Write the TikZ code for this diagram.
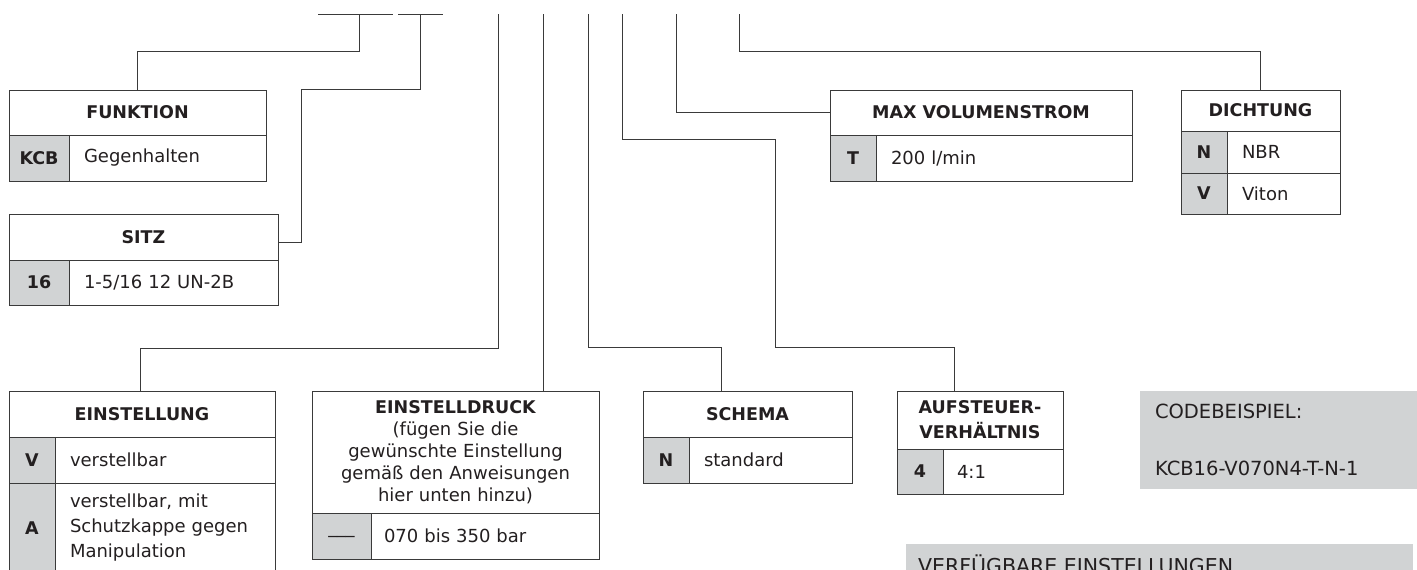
\documentclass[tikz,border=0pt]{standalone}
\usepackage{fontspec}
\setmainfont{DejaVu Sans}
\usetikzlibrary{positioning}
\definecolor{rulegray}{HTML}{3A3A3A}
\definecolor{cellgray}{HTML}{D1D3D4}
\definecolor{ink}{HTML}{231F20}

\begin{document}
\begin{tikzpicture}[x=1pt,y=-1pt,text=ink,
   font=\fontsize{18}{25}\selectfont,
   lnk/.style={draw=rulegray,line width=1pt},
   hd/.style={draw=rulegray,line width=1pt,font=\fontsize{17.5}{25}\selectfont\bfseries,
     inner sep=0pt,outer sep=0pt,align=center},
   cd/.style={draw=rulegray,line width=1pt,fill=cellgray,font=\fontsize{17.5}{25}\selectfont\bfseries,
     inner sep=0pt,outer sep=0pt},
   vl/.style={draw=rulegray,line width=1pt,inner xsep=15pt,inner ysep=0pt,
     outer sep=0pt,align=left},
   note/.style={fill=cellgray,inner sep=0pt,outer sep=0pt}]
  \useasboundingbox (0,0) rectangle (1417,570);
  \clip (0,0) rectangle (1417,570);
  % code positions
  \coordinate (segA1) at (318,14); \coordinate (segA2) at (393,14);
  \coordinate (segB1) at (398,14); \coordinate (segB2) at (443,14);
  \coordinate (s1) at (359,14); \coordinate (s2) at (420,14);
  \coordinate (s3) at (498,14); \coordinate (s4) at (543,14);
  \coordinate (s5) at (588,14); \coordinate (s6) at (622,14);
  \coordinate (s7) at (676,14); \coordinate (s8) at (739,14);
  % FUNKTION
  \node[hd,anchor=north west,minimum width=257pt,minimum height=45pt] (funkH) at (9,90) {FUNKTION};
  \node[cd,below right=0pt of funkH.south west,minimum width=60pt,minimum height=46pt] (funkC) {KCB};
  \node[vl,right=0pt of funkC,text width=167pt,minimum height=46pt] (funkV) {Gegenhalten};
  % SITZ
  \node[hd,anchor=north west,minimum width=269pt,minimum height=46pt] (sitzH) at (9,214) {SITZ};
  \node[cd,below right=0pt of sitzH.south west,minimum width=60pt,minimum height=45pt] (sitzC) {16};
  \node[vl,right=0pt of sitzC,text width=179pt,minimum height=45pt] (sitzV) {1-5/16 12 UN-2B};
  % MAX VOLUMENSTROM
  \node[hd,anchor=north west,minimum width=302pt,minimum height=45pt] (maxH) at (830,90) {MAX VOLUMENSTROM};
  \node[cd,below right=0pt of maxH.south west,minimum width=46pt,minimum height=46pt] (maxC) {T};
  \node[vl,right=0pt of maxC,text width=226pt,minimum height=46pt] (maxV) {200 l/min};
  % DICHTUNG
  \node[hd,anchor=north west,minimum width=159pt,minimum height=41pt] (dichH) at (1181,90) {DICHTUNG};
  \node[cd,below right=0pt of dichH.south west,minimum width=46pt,minimum height=42pt] (dichC1) {N};
  \node[vl,right=0pt of dichC1,text width=83pt,minimum height=42pt] (dichV1) {NBR};
  \node[cd,below right=0pt of dichC1.south west,minimum width=46pt,minimum height=41pt] (dichC2) {V};
  \node[vl,right=0pt of dichC2,text width=83pt,minimum height=41pt] (dichV2) {Viton};
  % EINSTELLUNG
  \node[hd,anchor=north west,minimum width=266pt,minimum height=46pt] (einH) at (9,391) {EINSTELLUNG};
  \node[cd,below right=0pt of einH.south west,minimum width=46pt,minimum height=46pt] (einC1) {V};
  \node[vl,right=0pt of einC1,text width=190pt,minimum height=46pt] (einV1) {verstellbar};
  \node[cd,below right=0pt of einC1.south west,minimum width=46pt,minimum height=90pt] (einC2) {A};
  \node[vl,right=0pt of einC2,text width=190pt,minimum height=90pt] (einV2)
    {verstellbar, mit\\Schutzkappe gegen\\Manipulation};
  % EINSTELLDRUCK
  \node[hd,anchor=north west,minimum width=287pt,minimum height=122pt,text width=287pt,
    font=\fontsize{18}{22}\selectfont] (drkH) at (312,391)
    {{\fontsize{17.5}{25}\selectfont\bfseries EINSTELLDRUCK\par}
     (fügen Sie die\\gewünschte Einstellung\\gemäß den Anweisungen\\hier unten hinzu)};
  \node[cd,below right=0pt of drkH.south west,minimum width=59pt,minimum height=46pt] (drkC) {\mdseries\_\_\_};
  \node[vl,right=0pt of drkC,inner xsep=13pt,text width=202pt,minimum height=46pt] (drkV) {070 bis 350 bar};
  % SCHEMA
  \node[hd,anchor=north west,minimum width=209pt,minimum height=46pt] (schH) at (643,391) {SCHEMA};
  \node[cd,below right=0pt of schH.south west,minimum width=46pt,minimum height=46pt] (schC) {N};
  \node[vl,right=0pt of schC,text width=133pt,minimum height=46pt] (schV) {standard};
  % AUFSTEUERVERHAELTNIS
  \node[hd,anchor=north west,minimum width=166pt,minimum height=58pt] (aufH) at (897,391)
    {AUFSTEUER-\\VERHÄLTNIS};
  \node[cd,below right=0pt of aufH.south west,minimum width=46pt,minimum height=45pt] (aufC) {4};
  \node[vl,right=0pt of aufC,inner xsep=14pt,text width=92pt,minimum height=45pt] (aufV) {4:1};
  % code example and settings
  \node[note,anchor=north west,minimum width=277pt,minimum height=98pt,inner xsep=15pt,
    text width=247pt,align=left,font=\fontsize{19.5}{57}\selectfont] (codeBox) at (1140,391)
    {CODEBEISPIEL:\\KCB16-V070N4-T-N-1};
  \node[note,anchor=north west,minimum width=507pt,minimum height=40pt] (setBox) at (906,544) {};
  \node[anchor=base west,inner sep=0pt,font=\fontsize{20.5}{25}\selectfont] (setText) at (918,573)
    {VERFÜGBARE EINSTELLUNGEN};
  % connectors
  \draw[lnk] (segA1) -- (segA2);
  \draw[lnk] (segB1) -- (segB2);
  \coordinate (k2) at (301,242);
  \coordinate (k3) at (140,348);
  \coordinate (k5) at (721,347);
  \coordinate (k6a) at (775,139);
  \coordinate (k6b) at (954,347);
  \draw[lnk] (s1) -- ++(0,37) -| (funkH.north);
  \draw[lnk] (s2) -- ++(0,75) -| (k2) -- (k2 -| sitzH.east);
  \draw[lnk] (s3) |- (k3) -- (k3 |- einH.north);
  \draw[lnk] (s4) -- (s4 |- drkH.north);
  \draw[lnk] (s5) |- (k5) -- (k5 |- schH.north);
  \draw[lnk] (s6) |- (k6a) |- (k6b) -- (k6b |- aufH.north);
  \draw[lnk] (s7) |- (maxH.west);
  \draw[lnk] (s8) -- ++(0,37) -| (dichH.north);
\end{tikzpicture}
\end{document}
